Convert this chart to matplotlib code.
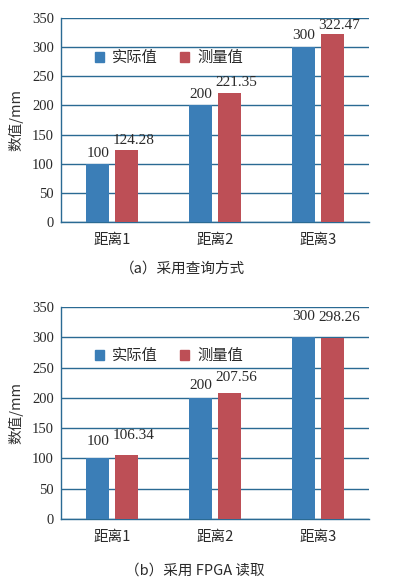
import matplotlib
matplotlib.use("Agg")
import matplotlib.pyplot as plt
import numpy as np
from matplotlib.patches import Rectangle

plt.rcParams['font.family'] = ['Liberation Serif', 'Noto Sans CJK SC', 'DejaVu Sans']

categories = ['距离1', '距离2', '距离3']
series_names = ['实际值', '测量值']
actual_a = [100, 200, 300]
measured_a = [124.28, 221.35, 322.47]
actual_b = [100, 200, 300]
measured_b = [106.34, 207.56, 298.26]
yticks = [0, 50, 100, 150, 200, 250, 300, 350]
captions = ['（a）采用查询方式', '（b）采用 FPGA 读取']
label_a_actual = ['100', '200', '300']
label_a_meas = ['124.28', '221.35', '322.47']
label_b_actual = ['100', '200', '300']
label_b_meas = ['106.34', '207.56', '298.26']

BLUE = '#3B7EB7'
RED = '#BD4F56'
GRID = '#2A6A93'
TXT = '#2a2a2a'

W, H = 393, 584
fig = plt.figure(figsize=(W / 100, H / 100), dpi=100)

def make_ax(left, top, right, bottom):
    return fig.add_axes([left / W, 1 - bottom / H, (right - left) / W, (bottom - top) / H])

# label vertical gaps above bar tops (points) per panel: (actual, measured) per category
panels = [
    dict(box=(61, 18, 369, 222), act=actual_a, meas=measured_a, la=label_a_actual, lm=label_a_meas,
         cap=captions[0], capxy=(183, 270), leg_y=57,
         gap_act=[3, 3, 3.5], gap_meas=[1.5, 3, 1.5]),
    dict(box=(61, 307, 369, 519), act=actual_b, meas=measured_b, la=label_b_actual, lm=label_b_meas,
         cap=captions[1], capxy=(195, 571), leg_y=355,
         gap_act=[7.5, 4, 10.5], gap_meas=[9, 7, 10]),
]

x = np.arange(len(categories))
bw = 0.224
off = 0.141
CJK = ['Noto Sans CJK SC', 'Liberation Serif']

for p in panels:
    ax = make_ax(*p['box'])
    ax.bar(x - off, p['act'], width=bw, color=BLUE, zorder=3)
    ax.bar(x + off, p['meas'], width=bw, color=RED, zorder=3)
    ax.set_xlim(-0.5, 2.5)
    ax.set_ylim(0, 350)
    ax.set_yticks(yticks)
    ax.set_yticklabels([str(v) for v in yticks], fontsize=10.5)
    ax.set_xticks(x)
    ax.set_xticklabels(categories, fontsize=10.5, family=CJK)
    ax.tick_params(axis='both', length=0, pad=5, colors=TXT)
    ax.tick_params(axis='x', pad=8)
    ax.yaxis.grid(True, color=GRID, linewidth=1.0, zorder=0)
    ax.set_axisbelow(True)
    for s in ['top', 'right']:
        ax.spines[s].set_visible(False)
    for s in ['left', 'bottom']:
        ax.spines[s].set_color(GRID)
        ax.spines[s].set_linewidth(1.0)
    ax.set_ylabel('数值/mm', fontsize=10.5, family=CJK, labelpad=6, color='#333333')
    for xi, v, t, g in zip(x, p['act'], p['la'], p['gap_act']):
        ax.annotate(t, (xi - off, v), xytext=(0, g), textcoords='offset points',
                    ha='center', va='bottom', fontsize=11, color=TXT)
    for xi, v, t, g in zip(x, p['meas'], p['lm'], p['gap_meas']):
        ax.annotate(t, (xi + off, v), xytext=(5, g), textcoords='offset points',
                    ha='center', va='bottom', fontsize=11, color=TXT)
    # legend
    ly = p['leg_y']
    for (sx, tx, col, name) in [(95, 112, BLUE, series_names[0]), (180, 197, RED, series_names[1])]:
        fig.patches.append(Rectangle((sx / W, 1 - (ly + 5) / H), 9 / W, 10 / H,
                                     transform=fig.transFigure, color=col, figure=fig))
        fig.text(tx / W, 1 - ly / H, name, ha='left', va='center', fontsize=11,
                 family=CJK, color=TXT)
    fig.text(p['capxy'][0] / W, 1 - p['capxy'][1] / H, p['cap'], ha='center', va='center', fontsize=10.5,
             family=CJK, color=TXT)

fig.savefig('out.png', dpi=100)
